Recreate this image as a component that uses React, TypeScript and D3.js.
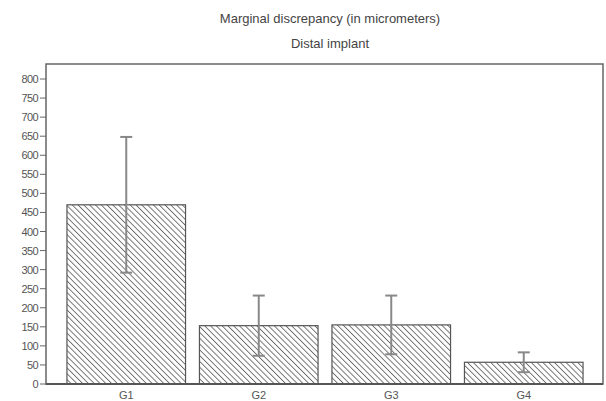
import React from "react";
import * as d3 from "d3";

const categories = ["G1", "G2", "G3", "G4"];
const means = [470, 153, 155, 57];
const errors = [178, 79, 77, 26];
const yTicks = [0, 50, 100, 150, 200, 250, 300, 350, 400, 450, 500, 550, 600, 650, 700, 750, 800];

const W = 606;
const H = 401;
const left = 46;
const right = 603;
const top = 64;
const bottom = 384;

export default function App() {
  const y = d3.scaleLinear().domain([0, 800]).range([bottom, 79]);
  const x = d3
    .scaleBand<string>()
    .domain(categories)
    .range([60, 590])
    .paddingInner(0.105)
    .paddingOuter(0.0525);
  const bw = x.bandwidth();
  const font = "Arial, 'Liberation Sans', sans-serif";
  return (
    <svg
      width={W}
      height={H}
      style={{ position: "absolute", left: 0, top: 0, background: "#fff" }}
    >
      <defs>
        <pattern
          id="hatch"
          patternUnits="userSpaceOnUse"
          width={4.1}
          height={4.1}
          patternTransform="rotate(-45)"
        >
          <rect width={4.1} height={4.1} fill="#fff" />
          <line x1={0} y1={0} x2={0} y2={4.1} stroke="#6a6a6a" strokeWidth={1.8} />
        </pattern>
      </defs>
      <text
        x={330}
        y={23}
        textAnchor="middle"
        fontFamily={font}
        fontSize={13}
        fill="#444"
      >
        Marginal discrepancy (in micrometers)
      </text>
      <text
        x={330}
        y={48}
        textAnchor="middle"
        fontFamily={font}
        fontSize={13}
        fill="#444"
      >
        Distal implant
      </text>
      {categories.map((c, i) => (
        <rect
          key={c}
          x={x(c)}
          y={y(means[i])}
          width={bw}
          height={bottom - y(means[i])}
          fill="url(#hatch)"
          stroke="#555"
          strokeWidth={1.2}
        />
      ))}
      {categories.map((c, i) => {
        const cx = (x(c) as number) + bw / 2;
        const y1 = y(means[i] + errors[i]);
        const y0 = y(means[i] - errors[i]);
        return (
          <g key={c} stroke="#888" strokeWidth={2}>
            <line x1={cx} x2={cx} y1={y1} y2={y0} />
            <line x1={cx - 6} x2={cx + 6} y1={y1} y2={y1} />
            <line x1={cx - 6} x2={cx + 6} y1={y0} y2={y0} />
          </g>
        );
      })}
      <rect
        x={left}
        y={top}
        width={right - left}
        height={bottom - top}
        fill="none"
        stroke="#666"
        strokeWidth={1.5}
      />
      <line x1={left} x2={right} y1={bottom} y2={bottom} stroke="#555" strokeWidth={2} />
      {yTicks.map((t) => (
        <g key={t}>
          <line x1={left - 6} x2={left} y1={y(t)} y2={y(t)} stroke="#666" strokeWidth={1} />
          <text
            x={left - 8}
            y={y(t) + 4}
            textAnchor="end"
            fontFamily={font}
            fontSize={11}
            fill="#555"
            letterSpacing={-0.6}
          >
            {t}
          </text>
        </g>
      ))}
      {categories.map((c) => (
        <text
          key={c}
          x={(x(c) as number) + bw / 2}
          y={399}
          textAnchor="middle"
          fontFamily={font}
          fontSize={11}
          fill="#555"
        >
          {c}
        </text>
      ))}
    </svg>
  );
}
